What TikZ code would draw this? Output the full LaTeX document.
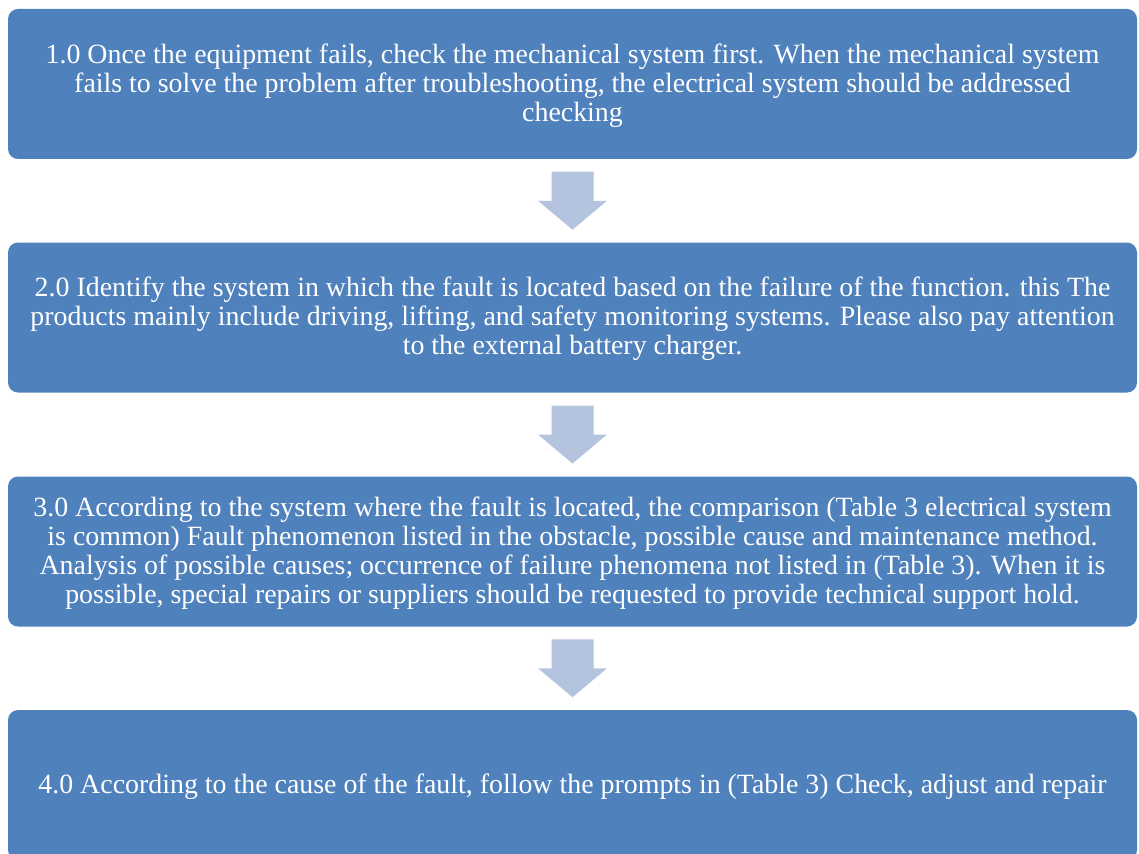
\documentclass[tikz,border=0pt]{standalone}
\usepackage{fontspec}
\setmainfont{Liberation Serif}
\usetikzlibrary{calc}
\definecolor{boxblue}{HTML}{4F81BD}
\definecolor{arrowblue}{HTML}{B4C3DE}
\newlength{\wa}\newlength{\wb}
\tikzset{
  stepbox/.style={fill=boxblue, draw=none, rounded corners=10pt, minimum width=1129pt, minimum height=150pt,
    text=white, align=center, font=\fontsize{\fs}{29}\selectfont, inner sep=0pt},
  steptext/.style={text=white, align=center, font=\fontsize{\fs}{29}\selectfont, inner sep=0pt, yshift=-1.5pt},
  blockarrow/.style={fill=arrowblue, draw=none}
}
\newcommand{\downarrowblock}[1]{%
  \fill[arrowblue] ($(#1)+(-21,-29)$) -- ($(#1)+(21,-29)$) -- ($(#1)+(21,0)$) -- ($(#1)+(34.5,0)$)
    -- ($(#1)+(0,29)$) -- ($(#1)+(-34.5,0)$) -- ($(#1)+(-21,0)$) -- cycle;}
\begin{document}
{\fontsize{10}{12}\selectfont
\global\setbox1=\hbox{1.0 Once the equipment fails, check the mechanical system first. When the mechanical system}
\global\setbox2=\hbox{4.0 According to the cause of the fault, follow the prompts in (Table 3) Check, adjust and repair}}
\setlength{\wa}{\wd1}\setlength{\wb}{\wd2}
\pgfmathsetmacro{\fs}{10*(1050/\wa + 1072/\wb)/2}
\begin{tikzpicture}[x=1pt,y=-1pt]
\useasboundingbox (0,0) rectangle (1139,853);
\node[stepbox] (b1) at (572.5,84) {};
\node[stepbox] (b2) at (572.5,317.5) {};
\node[stepbox] (b3) at (572.5,551.5) {};
\node[stepbox] (b4) at (572.5,785) {};
\node[steptext] (t1) at (b1.center) {1.0 Once the equipment fails, check the mechanical system first. When the mechanical system\\ fails to solve the problem after troubleshooting, the electrical system should be addressed\\ checking};
\node[steptext] (t2) at (b2.center) {2.0 Identify the system in which the fault is located based on the failure of the function. this The\\ products mainly include driving, lifting, and safety monitoring systems. Please also pay attention\\ to the external battery charger.};
\node[steptext] (t3) at (b3.center) {3.0 According to the system where the fault is located, the comparison (Table 3 electrical system\\ is common) Fault phenomenon listed in the obstacle, possible cause and maintenance method.\\ Analysis of possible causes; occurrence of failure phenomena not listed in (Table 3). When it is\\ possible, special repairs or suppliers should be requested to provide technical support hold.};
\node[steptext] (t4) at (b4.center) {4.0 According to the cause of the fault, follow the prompts in (Table 3) Check, adjust and repair};
\coordinate (m1) at ($(b1.south)!0.5!(b2.north)$);
\coordinate (m2) at ($(b2.south)!0.5!(b3.north)$);
\coordinate (m3) at ($(b3.south)!0.5!(b4.north)$);
\downarrowblock{m1}
\downarrowblock{m2}
\downarrowblock{m3}
\end{tikzpicture}
\end{document}
